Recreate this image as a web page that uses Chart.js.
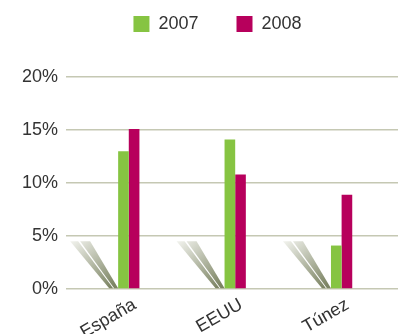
<!DOCTYPE html>
<html>
<head>
<meta charset="utf-8">
<script src="https://cdn.jsdelivr.net/npm/chart.js@4.4.1/dist/chart.umd.min.js"></script>
<style>
  html, body { margin: 0; padding: 0; background: #fff; }
  #wrap { width: 405px; height: 334px; }
</style>
</head>
<body>
<div id="wrap"><canvas id="grafico"></canvas></div>
<script>
// Datos
const categorias = ['España', 'EEUU', 'Túnez'];
const serie2007 = [13.0, 14.1, 4.1];
const serie2008 = [15.1, 10.8, 8.9];
const ticksY = [0, 5, 10, 15, 20];

const fuente = "'Liberation Sans', Arial, Helvetica, sans-serif";
const texto = '#333333';

// sombras diagonales a la izquierda de cada grupo
const sombras = {
    id: 'sombras',
    beforeDatasetsDraw(chart) {
        const meta = chart.getDatasetMeta(0);
        const ctx = chart.ctx;
        const topo = chart.scales.y.getPixelForValue(4.5);
        meta.data.forEach(barra => {
            const L = barra.x - barra.width / 2;
            const B = barra.base;
            const grad = ctx.createLinearGradient(L - 48, topo, L - 8, B);
            grad.addColorStop(0, '#f2f3ee');
            grad.addColorStop(1, '#7c8463');
            ctx.save();
            ctx.fillStyle = grad;
            [[-48, -40, -5, -9], [-38, -28, 0, -4]].forEach(([a, b, c, d]) => {
                ctx.beginPath();
                ctx.moveTo(L + a, topo);
                ctx.lineTo(L + b, topo);
                ctx.lineTo(L + c, B);
                ctx.lineTo(L + d, B);
                ctx.closePath();
                ctx.fill();
            });
            ctx.restore();
        });
    }
};

// leyenda: más espacio debajo y algo desplazada a la derecha
const ajusteLeyenda = {
    id: 'ajusteLeyenda',
    beforeLayout(chart) {
        const leyenda = chart.legend;
        if (!leyenda || leyenda.fitOriginal) return;
        leyenda.fitOriginal = leyenda.fit;
        leyenda.fit = function () {
            this.fitOriginal();
            this.height = 100;
        };
    },
    afterLayout(chart) {
        if (chart.legend) chart.legend.left = 37;
    }
};

const ctx = document.getElementById('grafico').getContext('2d');
new Chart(ctx, {
    type: 'bar',
    data: {
        datasets: [
            {
                label: '2007',
                data: categorias.map((c, i) => ({ x: i, y: serie2007[i] })),
                backgroundColor: '#86c442'
            },
            {
                label: '2008',
                data: categorias.map((c, i) => ({ x: i, y: serie2008[i] })),
                backgroundColor: '#b7005c'
            }
        ]
    },
    options: {
        responsive: true, maintainAspectRatio: false,
        animation: false,
        categoryPercentage: 0.2,
        barPercentage: 1.0,
        layout: { padding: { top: -23, left: 0, right: 7, bottom: 0 } },
        plugins: {
            legend: {
                position: 'top',
                labels: {
                    boxWidth: 16, boxHeight: 16, padding: 38,
                    color: texto,
                    font: { family: fuente, size: 18 }
                }
            },
            tooltip: { enabled: false }
        },
        scales: {
            x: {
                type: 'linear',
                offset: false,
                min: -0.59, max: 2.53,
                grid: { display: false },
                border: { display: false },
                afterBuildTicks: scale => { scale.ticks = categorias.map((c, i) => ({ value: i })); },
                afterFit: scale => { scale.height = 45; },
                ticks: {
                    autoSkip: false,
                    minRotation: 30, maxRotation: 30,
                    padding: -3,
                    labelOffset: 6,
                    color: texto,
                    font: { family: fuente, size: 18 },
                    callback: v => categorias[v]
                }
            },
            y: {
                min: ticksY[0], max: ticksY[ticksY.length - 1],
                afterBuildTicks: scale => { scale.ticks = ticksY.map(v => ({ value: v })); },
                afterFit: scale => { scale.width = 66; },
                grid: { color: '#c5c8b3', lineWidth: 1.5, drawTicks: false },
                border: { display: false },
                ticks: {
                    padding: 8,
                    color: texto,
                    font: { family: fuente, size: 18 },
                    callback: v => v + '%'
                }
            }
        }
    },
    plugins: [sombras, ajusteLeyenda]
});
</script>
</body>
</html>
